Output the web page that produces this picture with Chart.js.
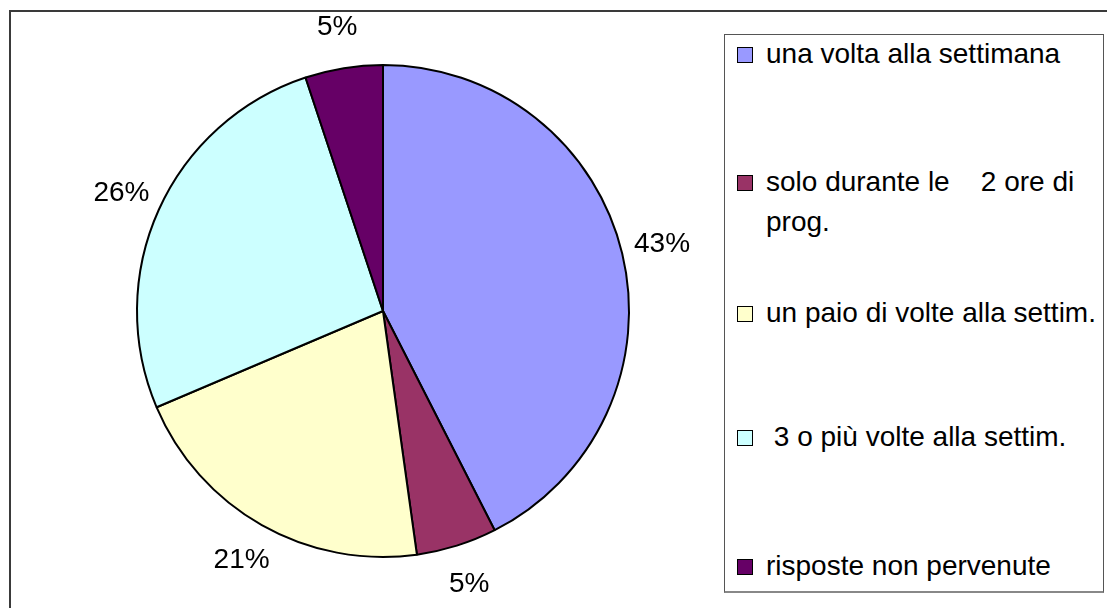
<!DOCTYPE html>
<html>
<head>
<meta charset="utf-8">
<script src="https://cdn.jsdelivr.net/npm/chart.js@4/dist/chart.umd.min.js"></script>
<style>
  html, body { margin: 0; padding: 0; background: #fff; }
  body { width: 1107px; height: 608px; overflow: hidden; position: relative; font-family: "Liberation Sans", Arial, sans-serif; }
  #frame { position: absolute; left: 9px; top: 10px; width: 1200px; height: 700px; border: 2px solid #3a3a3a; }
  #chart { position: absolute; left: 0; top: 0; }
  #legend { position: absolute; left: 724px; top: 34px; width: 380px; height: 559px; box-sizing: border-box;
            border: 1px solid #555; border-bottom: 2px solid #888; background: #fff; }
  .item { position: absolute; left: 766px; width: 338px; font-size: 28px; line-height: 40px; color: #000; white-space: pre-wrap; }
  .mk { position: absolute; left: -29px; top: 13px; width: 16px; height: 16px; box-sizing: border-box; border: 1.5px solid #000; }
</style>
</head>
<body>
<div id="frame"></div>
<canvas id="chart" width="1107" height="608"></canvas>
<div id="legend"></div>
<script>
// data
const categories = ['una volta alla settimana', 'solo durante le    2 ore di prog.', 'un paio di volte alla settim.', ' 3 o più volte alla settim.', 'risposte non pervenute'];
const shares = [42.5, 5.3, 20.8, 26.3, 5.1];
const sliceColors = ['#9999FF', '#993366', '#FFFFCC', '#CCFFFF', '#660066'];

// legend (Excel-style, entries spread over the box)
const itemTops = [34, 162, 293, 417, 546];
categories.forEach((c, i) => {
  const d = document.createElement('div');
  d.className = 'item';
  d.style.top = itemTops[i] + 'px';
  const mk = document.createElement('span');
  mk.className = 'mk';
  mk.style.background = sliceColors[i];
  d.appendChild(mk);
  d.appendChild(document.createTextNode(c));
  document.body.appendChild(d);
});

const outsideLabels = {
  id: 'outsideLabels',
  afterDatasetsDraw(chart) {
    const ctx = chart.ctx;
    const meta = chart.getDatasetMeta(0);
    ctx.save();
    ctx.font = '28px "Liberation Sans", Arial, sans-serif';
    ctx.fillStyle = '#000';
    ctx.textAlign = 'center';
    ctx.textBaseline = 'middle';
    meta.data.forEach((arc, i) => {
      const mid = (arc.startAngle + arc.endAngle) / 2;
      const r = arc.outerRadius + 41;
      ctx.fillText(Math.round(shares[i]) + '%', arc.x + Math.cos(mid) * r, arc.y + Math.sin(mid) * r);
    });
    ctx.restore();
  }
};

new Chart(document.getElementById('chart'), {
  type: 'pie',
  data: {
    labels: categories,
    datasets: [{
      data: shares,
      backgroundColor: sliceColors,
      borderColor: '#000',
      borderWidth: 2,
      radius: 246
    }]
  },
  options: {
    responsive: false,
    animation: false,
    layout: { padding: { left: 0, right: 341, top: 14, bottom: 0 } },
    plugins: { legend: { display: false }, tooltip: { enabled: false } }
  },
  plugins: [outsideLabels]
});
</script>
</body>
</html>
